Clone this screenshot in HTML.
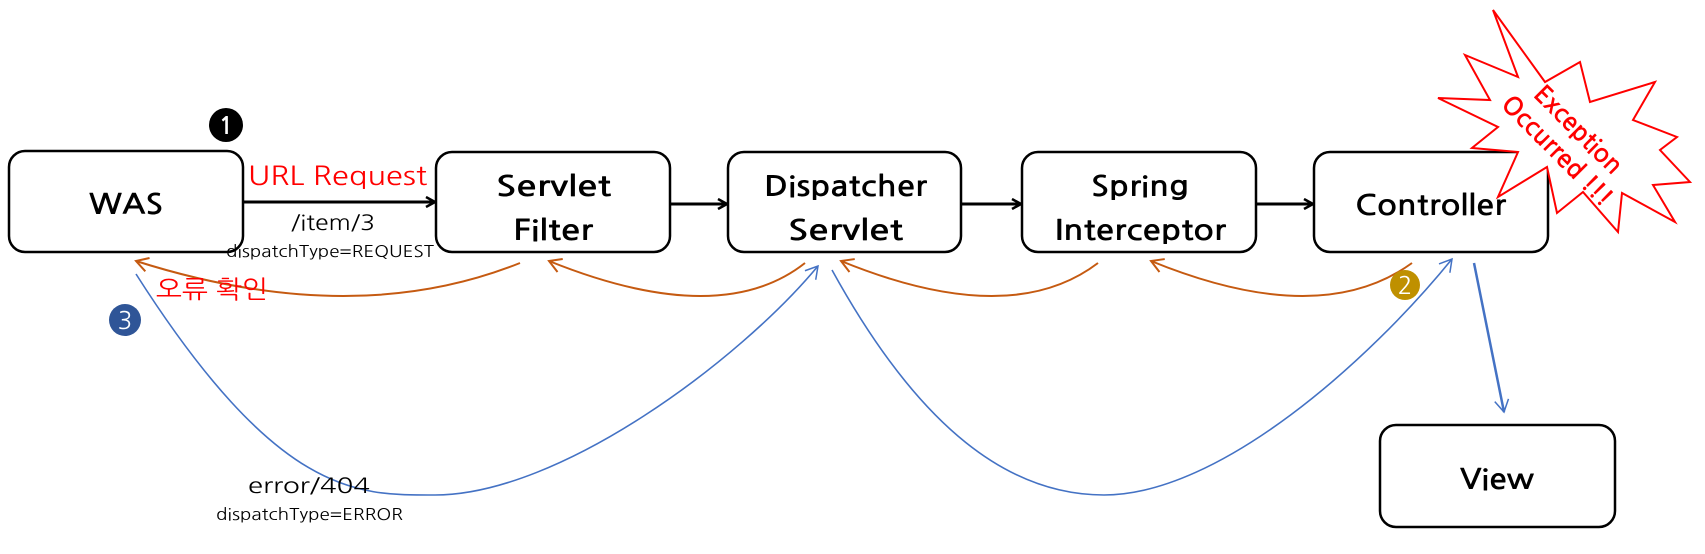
<!DOCTYPE html>
<html><head><meta charset="utf-8"><style>
html,body{margin:0;padding:0;background:#fff;}
svg{display:block;font-family:"NanumGothic","Liberation Sans",sans-serif;}
</style></head><body>
<svg width="1705" height="554" viewBox="0 0 1705 554" xmlns="http://www.w3.org/2000/svg">
<defs>
<marker id="ab" markerWidth="12" markerHeight="12" refX="10" refY="6" orient="auto" markerUnits="userSpaceOnUse"><path d="M1,1 L10,6 L1,11" fill="none" stroke="#000" stroke-width="2.5"/></marker>
<marker id="ao" markerWidth="16" markerHeight="16" refX="14" refY="8" orient="auto" markerUnits="userSpaceOnUse"><path d="M2,1 L14,8 L2,15" fill="none" stroke="#c55a11" stroke-width="2"/></marker>
<marker id="ak" markerWidth="16" markerHeight="16" refX="14" refY="8" orient="auto" markerUnits="userSpaceOnUse"><path d="M2,1 L14,8 L2,15" fill="none" stroke="#4472c4" stroke-width="1.5"/></marker>
</defs>
<g fill="#fff" stroke="#000" stroke-width="2.5">
<rect x="9" y="151" width="234" height="101" rx="16"/>
<rect x="436" y="152" width="234" height="100" rx="16"/>
<rect x="728" y="152" width="233" height="100" rx="16"/>
<rect x="1022" y="152" width="234" height="100" rx="16"/>
<rect x="1314" y="152" width="234" height="100" rx="16"/>
<rect x="1380" y="425" width="235" height="102" rx="16"/>
</g>
<g font-size="28" font-weight="bold" fill="#000" lengthAdjust="spacingAndGlyphs">
<text x="89" y="214" textLength="74" lengthAdjust="spacingAndGlyphs">WAS</text>
<text x="496" y="196" textLength="115" lengthAdjust="spacingAndGlyphs">Servlet</text>
<text x="513" y="240" textLength="80" lengthAdjust="spacingAndGlyphs">Filter</text>
<text x="764" y="196" textLength="163" lengthAdjust="spacingAndGlyphs">Dispatcher</text>
<text x="788" y="240" textLength="115" lengthAdjust="spacingAndGlyphs">Servlet</text>
<text x="1091" y="196" textLength="98" lengthAdjust="spacingAndGlyphs">Spring</text>
<text x="1055" y="240" textLength="171" lengthAdjust="spacingAndGlyphs">Interceptor</text>
<text x="1355" y="215" textLength="151" lengthAdjust="spacingAndGlyphs">Controller</text>
<text x="1460" y="489" textLength="74" lengthAdjust="spacingAndGlyphs">View</text>
</g>
<g stroke="#000" stroke-width="3" fill="none">
<line x1="243" y1="202" x2="435" y2="202" marker-end="url(#ab)"/>
<line x1="670" y1="204" x2="727" y2="204" marker-end="url(#ab)"/>
<line x1="961" y1="204" x2="1021" y2="204" marker-end="url(#ab)"/>
<line x1="1256" y1="204" x2="1313" y2="204" marker-end="url(#ab)"/>
</g>
<g stroke="#c55a11" stroke-width="2" fill="none">
<path d="M520,263 Q353,330 136,261" marker-end="url(#ao)"/>
<path d="M805,263 Q720,330 549,261" marker-end="url(#ao)"/>
<path d="M1098,263 Q1010,330 841,261" marker-end="url(#ao)"/>
<path d="M1412,263 Q1320,330 1151,261" marker-end="url(#ao)"/>
</g>
<g stroke="#4472c4" stroke-width="1.6" fill="none">
<path d="M136,274 C280,500 360,495 435,495 C560,495 740,360 818,266" marker-end="url(#ak)"/>
<path d="M832,270 C920,430 1010,495 1104,495 C1220,495 1370,360 1452,259" marker-end="url(#ak)"/>
<line x1="1474" y1="263" x2="1504" y2="412" stroke-width="2.5" marker-end="url(#ak)"/>
</g>
<text x="248" y="185" font-size="26" fill="#ff0000" textLength="179" lengthAdjust="spacingAndGlyphs">URL Request</text>
<text x="291" y="230" font-size="21" textLength="84" lengthAdjust="spacingAndGlyphs">/item/3</text>
<text x="226" y="257" font-size="16" textLength="208" lengthAdjust="spacingAndGlyphs">dispatchType=REQUEST</text>
<text x="156" y="298" font-size="25" fill="#ff0000" textLength="112" lengthAdjust="spacingAndGlyphs" font-family="NanumGothic,'Noto Sans CJK KR',sans-serif">오류 확인</text>
<text x="248" y="493" font-size="21" textLength="122" lengthAdjust="spacingAndGlyphs">error/404</text>
<text x="216" y="520" font-size="16" textLength="187" lengthAdjust="spacingAndGlyphs">dispatchType=ERROR</text>
<circle cx="226" cy="125" r="17" fill="#000"/><text x="226" y="134" font-size="24" font-weight="bold" fill="#fff" text-anchor="middle">1</text>
<circle cx="1405" cy="285" r="15" fill="#bf9000"/><text x="1405" y="294" font-size="24" fill="#fff" text-anchor="middle">2</text>
<circle cx="125" cy="320" r="16" fill="#2f5597"/><text x="125" y="329" font-size="24" fill="#fff" text-anchor="middle">3</text>
<polygon fill="#fff" stroke="#ff0000" stroke-width="2" points="1493,10 1518,77 1465,55 1490,100 1438,98 1498,127 1472,148 1518,152 1498,197 1547,167 1557,213 1583,192 1618,232 1622,193 1675,222 1653,185 1690,182 1660,150 1677,137 1633,120 1655,82 1590,102 1580,62 1545,82"/>
<text x="0" y="0" transform="translate(1568,140) rotate(45)" font-size="25" font-weight="bold" fill="#ff0000" text-anchor="middle"><tspan x="0" dy="-6">Exception</tspan><tspan x="0" dy="30">Occurred !!!</tspan></text>
</svg>
</body></html>
